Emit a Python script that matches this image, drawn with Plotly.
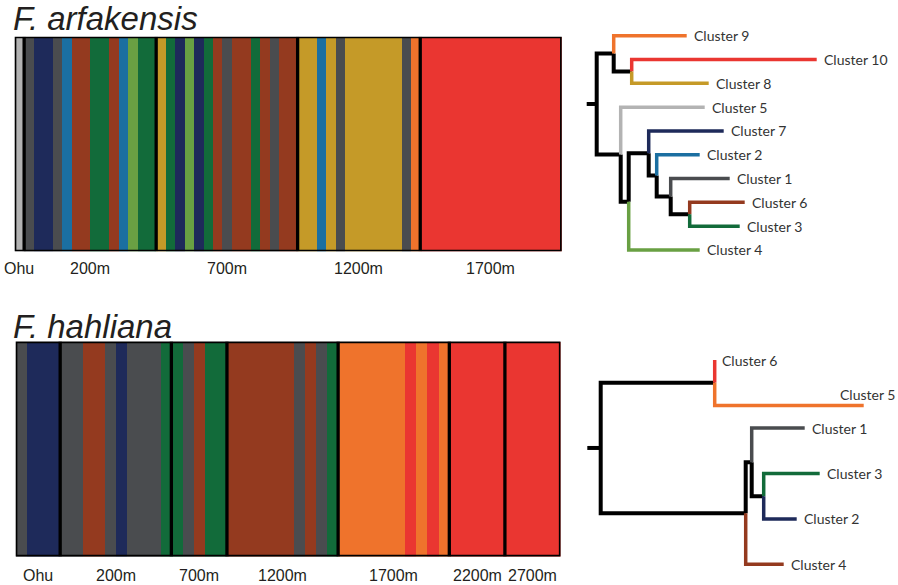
import plotly.graph_objects as go

W, H = 898, 585

# ---------------- DATA ----------------
# F. arfakensis: cluster assignment of each individual, by population
arf_pops = ["Ohu", "200m", "700m", "1200m", "1700m"]
arf_ohu = [5]
arf_200 = [1, 7, 7, 1, 2, 6, 6, 3, 3, 6, 2, 4, 3, 3]
arf_700 = [8, 3, 7, 4, 7, 3, 6, 1, 6, 6, 3, 6, 1, 6, 6]
arf_1200 = [8, 8, 2, 8, 1, 8, 8, 8, 8, 8, 8, 1, 9]
arf_1700 = [10, 10, 10, 10, 10, 10, 10, 10, 10, 10, 10, 10, 10, 10, 10]

# F. hahliana
hah_pops = ["Ohu", "200m", "700m", "1200m", "1700m", "2200m", "2700m"]
hah_ohu = [1, 2, 2, 2]
hah_200 = [1, 1, 4, 4, 1, 2, 1, 1, 1, 3]
hah_700 = [3, 1, 4, 3, 3]
hah_1200 = [4, 4, 4, 4, 4, 4, 1, 4, 1, 3]
hah_1700 = [5, 5, 5, 5, 5, 5, 6, 5, 6, 5]
hah_2200 = [6, 6, 6, 6, 6]
hah_2700 = [6, 6, 6, 6, 6]

# Dendrogram of F. arfakensis clusters
arf_leaf_clusters = [9, 10, 8, 5, 7, 2, 1, 6, 3, 4]
arf_leaf_pos = [0, 1, 2, 3, 4, 5, 6, 7, 8, 9]
arf_leaf_depth = [0.090, 0.220, 0.112, 0.108, 0.127, 0.103, 0.133, 0.148, 0.143, 0.103]
arf_nodes = [
    ("H", "C6", "C3", 0.093),
    ("G", "C1", "H", 0.074),
    ("F", "C2", "G", 0.060),
    ("E", "C7", "F", 0.052),
    ("D", "E", "C4", 0.032),
    ("C", "C5", "D", 0.024),
    ("B", "C10", "C8", 0.035),
    ("A", "C9", "B", 0.017),
    ("root", "A", "C", 0.0),
]

# Dendrogram of F. hahliana clusters
hah_leaf_clusters = [6, 5, 1, 3, 2, 4]
hah_leaf_pos = [0, 2, 3, 5, 7, 9]
hah_leaf_depth = [0.114, 0.263, 0.204, 0.219, 0.196, 0.183]
hah_nodes = [
    ("P", "C6", "C5", 0.114),
    ("Q", "C3", "C2", 0.163),
    ("R", "C1", "Q", 0.151),
    ("S", "R", "C4", 0.145),
    ("root", "P", "S", 0.0),
]

# ---------------- STYLE ----------------
arf_colors = {1: "#4a4c4f", 2: "#1b6fa1", 3: "#126b3a", 4: "#69a043", 5: "#b3b3b3",
              6: "#943a1f", 7: "#1e2a5a", 8: "#c59a28", 9: "#ef732c", 10: "#ea3631"}
hah_colors = {1: "#4a4c4f", 2: "#1e2a5a", 3: "#126b3a", 4: "#943a1f", 5: "#ef732c", 6: "#ea3631"}

TXT = "#231f20"
SANS = "Liberation Sans, Arial, sans-serif"
LBL = "Lato, Carlito, sans-serif"


def dx(a, b):
    return [a / W, b / W]


def dy(top, bottom):
    return [1 - bottom / H, 1 - top / H]


fig = go.Figure()
shapes = []
annotations = []


def add_structure(pops, groups, colors, xa, ya, label_shift):
    flat = [c for g in groups for c in g]
    n = len(flat)
    runs = []
    s = 0
    for i in range(1, n + 1):
        if i == n or flat[i] != flat[s]:
            runs.append((s, i, flat[s]))
            s = i
    fig.add_trace(go.Bar(
        x=[(a + b) / 2 for a, b, c in runs], y=[1] * len(runs), base=0,
        width=[b - a for a, b, c in runs],
        marker=dict(color=[colors[c] for a, b, c in runs], line=dict(width=0)),
        xaxis=xa, yaxis=ya, hoverinfo="skip", showlegend=False))
    cum = 0
    for name, g in zip(pops, groups):
        center = cum + len(g) / 2
        annotations.append(dict(x=center, y=0, xref=xa, yref=ya, text=name, showarrow=False,
                                xanchor="center", yanchor="middle", yshift=label_shift,
                                font=dict(family=SANS, size=16, color=TXT)))
        cum += len(g)
        if cum < n:
            shapes.append(dict(type="line", xref=xa, yref=ya, x0=cum, x1=cum, y0=0, y1=1,
                               line=dict(color="black", width=3.3), layer="above"))
    shapes.append(dict(type="rect", xref=xa, yref=ya, x0=0, x1=n, y0=0, y1=1,
                       line=dict(color="black", width=3.3), layer="above"))
    return n


def add_tree(leaf_clusters, leaf_pos, leaf_depth, nodes, colors, stub, xa, ya, above=()):
    pos, dep, col = {}, {}, {}
    for c, p, d in zip(leaf_clusters, leaf_pos, leaf_depth):
        k = f"C{c}"
        pos[k], dep[k], col[k] = p, d, colors[c]
    for name, a, b, d in nodes:
        pos[name] = (pos[a] + pos[b]) / 2
        dep[name] = d
        col[name] = "black"
    segs = []
    for name, a, b, d in nodes:
        for ch in (a, b):
            segs.append((col[ch], [d, d, dep[ch]], [pos[name], pos[ch], pos[ch]]))
    segs.append(("black", [-stub, 0], [pos["root"], pos["root"]]))
    segs.sort(key=lambda s: 0 if s[0] == "black" else 1)
    for c, xs, ys in segs:
        fig.add_trace(go.Scatter(x=xs, y=ys, mode="lines",
                                 line=dict(color=c, width=4 if c == "black" else 3.5),
                                 xaxis=xa, yaxis=ya, hoverinfo="skip", showlegend=False))
    for c, p, d in zip(leaf_clusters, leaf_pos, leaf_depth):
        txt = f"Cluster {c}"
        if txt in above:
            annotations.append(dict(x=1, y=p, xref="paper", yref=ya, text=txt, showarrow=False,
                                    xanchor="right", yanchor="middle", yshift=11, xshift=-1,
                                    font=dict(family=LBL, size=14, color="#333333")))
        else:
            annotations.append(dict(x=d, y=p, xref=xa, yref=ya, text=txt, showarrow=False,
                                    xanchor="left", yanchor="middle", xshift=5,
                                    font=dict(family=LBL, size=14, color="#333333")))


n1 = add_structure(arf_pops, [arf_ohu, arf_200, arf_700, arf_1200, arf_1700], arf_colors, "x", "y", -16.7)
n2 = add_structure(hah_pops, [hah_ohu, hah_200, hah_700, hah_1200, hah_1700, hah_2200, hah_2700],
                   hah_colors, "x2", "y2", -18.5)
add_tree(arf_leaf_clusters, arf_leaf_pos, arf_leaf_depth, arf_nodes, arf_colors, 0.010, "x3", "y3")
add_tree(hah_leaf_clusters, hah_leaf_pos, hah_leaf_depth, hah_nodes, hah_colors, 0.0134, "x4", "y4",
         above=("Cluster 5",))

annotations.append(dict(x=11 / W, y=1 - 18 / H, xref="paper", yref="paper", text="<i>F. arfakensis</i>",
                        showarrow=False, xanchor="left", yanchor="middle",
                        font=dict(family=SANS, size=33, color=TXT)))
annotations.append(dict(x=11 / W, y=1 - 326 / H, xref="paper", yref="paper", text="<i>F. hahliana</i>",
                        showarrow=False, xanchor="left", yanchor="middle",
                        font=dict(family=SANS, size=33, color=TXT)))

hid = dict(visible=False, fixedrange=True)
fig.update_layout(
    width=W, height=H, margin=dict(l=0, r=0, t=0, b=0),
    paper_bgcolor="white", plot_bgcolor="white", bargap=0, showlegend=False,
    xaxis=dict(domain=dx(14.7, 561.7), range=[0, n1], **hid),
    yaxis=dict(domain=dy(36.7, 251.3), range=[0, 1], **hid),
    xaxis2=dict(domain=dx(15.7, 560.5), range=[0, n2], anchor="y2", **hid),
    yaxis2=dict(domain=dy(341.5, 556.5), range=[0, 1], anchor="x2", **hid),
    xaxis3=dict(domain=dx(580, 898), range=[(580 - 596.7) / 1000, (898 - 596.7) / 1000], anchor="y3", **hid),
    yaxis3=dict(domain=dy(20, 270), range=[(270 - 35.7) / 23.81, (20 - 35.7) / 23.81], anchor="x3", **hid),
    xaxis4=dict(domain=dx(580, 898), range=[(580 - 600.7) / 1000, (898 - 600.7) / 1000], anchor="y4", **hid),
    yaxis4=dict(domain=dy(340, 580), range=[(580 - 360) / 22.7, (340 - 360) / 22.7], anchor="x4", **hid),
    shapes=shapes, annotations=annotations,
)

fig.write_html("out.html", config={"displayModeBar": False},
               post_script="document.body.style.margin='0';document.body.style.padding='0';")
